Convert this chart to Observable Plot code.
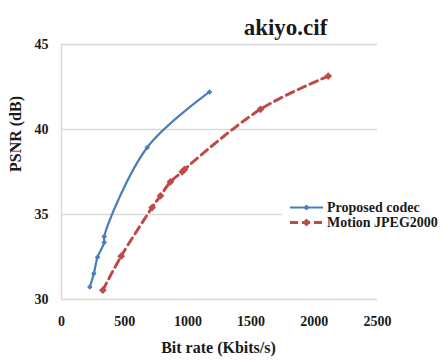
<!DOCTYPE html>
<html><head><meta charset="utf-8">
<script src="https://cdn.jsdelivr.net/npm/d3@7"></script>
<script src="https://cdn.jsdelivr.net/npm/@observablehq/plot@0.6"></script>
<style>
body{margin:0;background:#fff;}
#wrap{position:relative;width:447px;height:362px;overflow:hidden;}
#wrap svg text{font-family:"Liberation Serif","Times New Roman",serif !important;}
#legend{position:absolute;left:282px;top:200px;width:165px;background:#fff;font-family:"Liberation Serif","Times New Roman",serif;font-weight:bold;font-size:14px;color:#1a1a1a;padding-left:8px;box-sizing:border-box;}
#legend .row{display:flex;align-items:center;height:15px;line-height:15px;white-space:nowrap;}
#legend svg{width:33px;height:15px;margin-right:4px;flex:none;}
</style></head><body><div id="wrap"></div>
<script>
const title = "akiyo.cif";
const xLabel = "Bit rate (Kbits/s)";
const yLabel = "PSNR (dB)";
const seriesNames = ["Proposed codec", "Motion JPEG2000"];
const seriesColors = ["#4a7ebb", "#be4b48"];
const proposedRate = [224, 256, 285, 338, 338, 678, 1171];
const proposedPsnr = [30.74, 31.53, 32.49, 33.35, 33.70, 38.94, 42.21];
const mjpegRate = [327, 472, 717, 783, 862, 955, 973, 1574, 2110];
const mjpegPsnr = [30.55, 32.55, 35.41, 36.10, 36.92, 37.51, 37.65, 41.19, 43.14];
const xTicks = [0, 500, 1000, 1500, 2000, 2500];
const yTicks = [30, 35, 40, 45];

const proposed = proposedRate.map((x, i) => ({x, y: proposedPsnr[i]}));
const mjpeg = mjpegRate.map((x, i) => ({x, y: mjpegPsnr[i]}));
const serif = "'Liberation Serif', 'Times New Roman', serif";

const chart = Plot.plot({
  width: 447, height: 362,
  marginLeft: 61, marginRight: 70, marginTop: 44, marginBottom: 63,
  style: {fontFamily: serif, background: "#fff", color: "#1a1a1a"},
  x: {domain: [0, 2500]},
  y: {domain: [30, 45]},
  marks: [
    Plot.ruleY(yTicks, {stroke: "#d9d9d9", strokeWidth: 1.5}),
    Plot.ruleX([0], {stroke: "#d9d9d9", strokeWidth: 1.5}),
    Plot.axisX(xTicks, {tickSize: 0, tickPadding: 17, fontSize: 14, fontWeight: "bold", label: null, tickFormat: d => String(d)}),
    Plot.axisY(yTicks, {tickSize: 0, tickPadding: 13, fontSize: 14, fontWeight: "bold", label: null, tickFormat: d => String(d)}),
    Plot.line(mjpeg, {x: "x", y: "y", stroke: seriesColors[1], strokeWidth: 3, strokeDasharray: "8,5", curve: "catmull-rom"}),
    Plot.dot(mjpeg, {x: "x", y: "y", fill: seriesColors[1], symbol: "diamond2", r: 3.5}),
    Plot.line(proposed, {x: "x", y: "y", stroke: seriesColors[0], strokeWidth: 2.2, curve: "catmull-rom"}),
    Plot.dot(proposed, {x: "x", y: "y", fill: seriesColors[0], symbol: "diamond2", r: 2.5}),
    Plot.text([title], {frameAnchor: "top", dx: 66, dy: -26, fontSize: 23, fontWeight: "bold"}),
    Plot.text([xLabel], {frameAnchor: "bottom", dx: -1, dy: 53, fontSize: 16, fontWeight: "bold"}),
    Plot.text([yLabel], {frameAnchor: "left", dx: -46, dy: 0, rotate: -90, fontSize: 16, fontWeight: "bold"})
  ]
});
const wrap = document.getElementById("wrap");
wrap.appendChild(chart);

const legend = document.createElement("div");
legend.id = "legend";
seriesNames.forEach((name, i) => {
  const row = document.createElement("div");
  row.className = "row";
  const dash = i === 1 ? 'stroke-dasharray="8,4"' : '';
  const sw = i === 1 ? 3 : 2;
  const s = i === 1 ? 4 : 3;
  row.innerHTML = `<svg viewBox="0 0 33 15"><line x1="0" y1="7.5" x2="33" y2="7.5" stroke="${seriesColors[i]}" stroke-width="${sw}" ${dash}/><path d="M16.5 ${7.5 - s}L${16.5 + s} 7.5L16.5 ${7.5 + s}L${16.5 - s} 7.5Z" fill="${seriesColors[i]}"/></svg><span>${name}</span>`;
  legend.appendChild(row);
});
wrap.appendChild(legend);
</script>
</body></html>
